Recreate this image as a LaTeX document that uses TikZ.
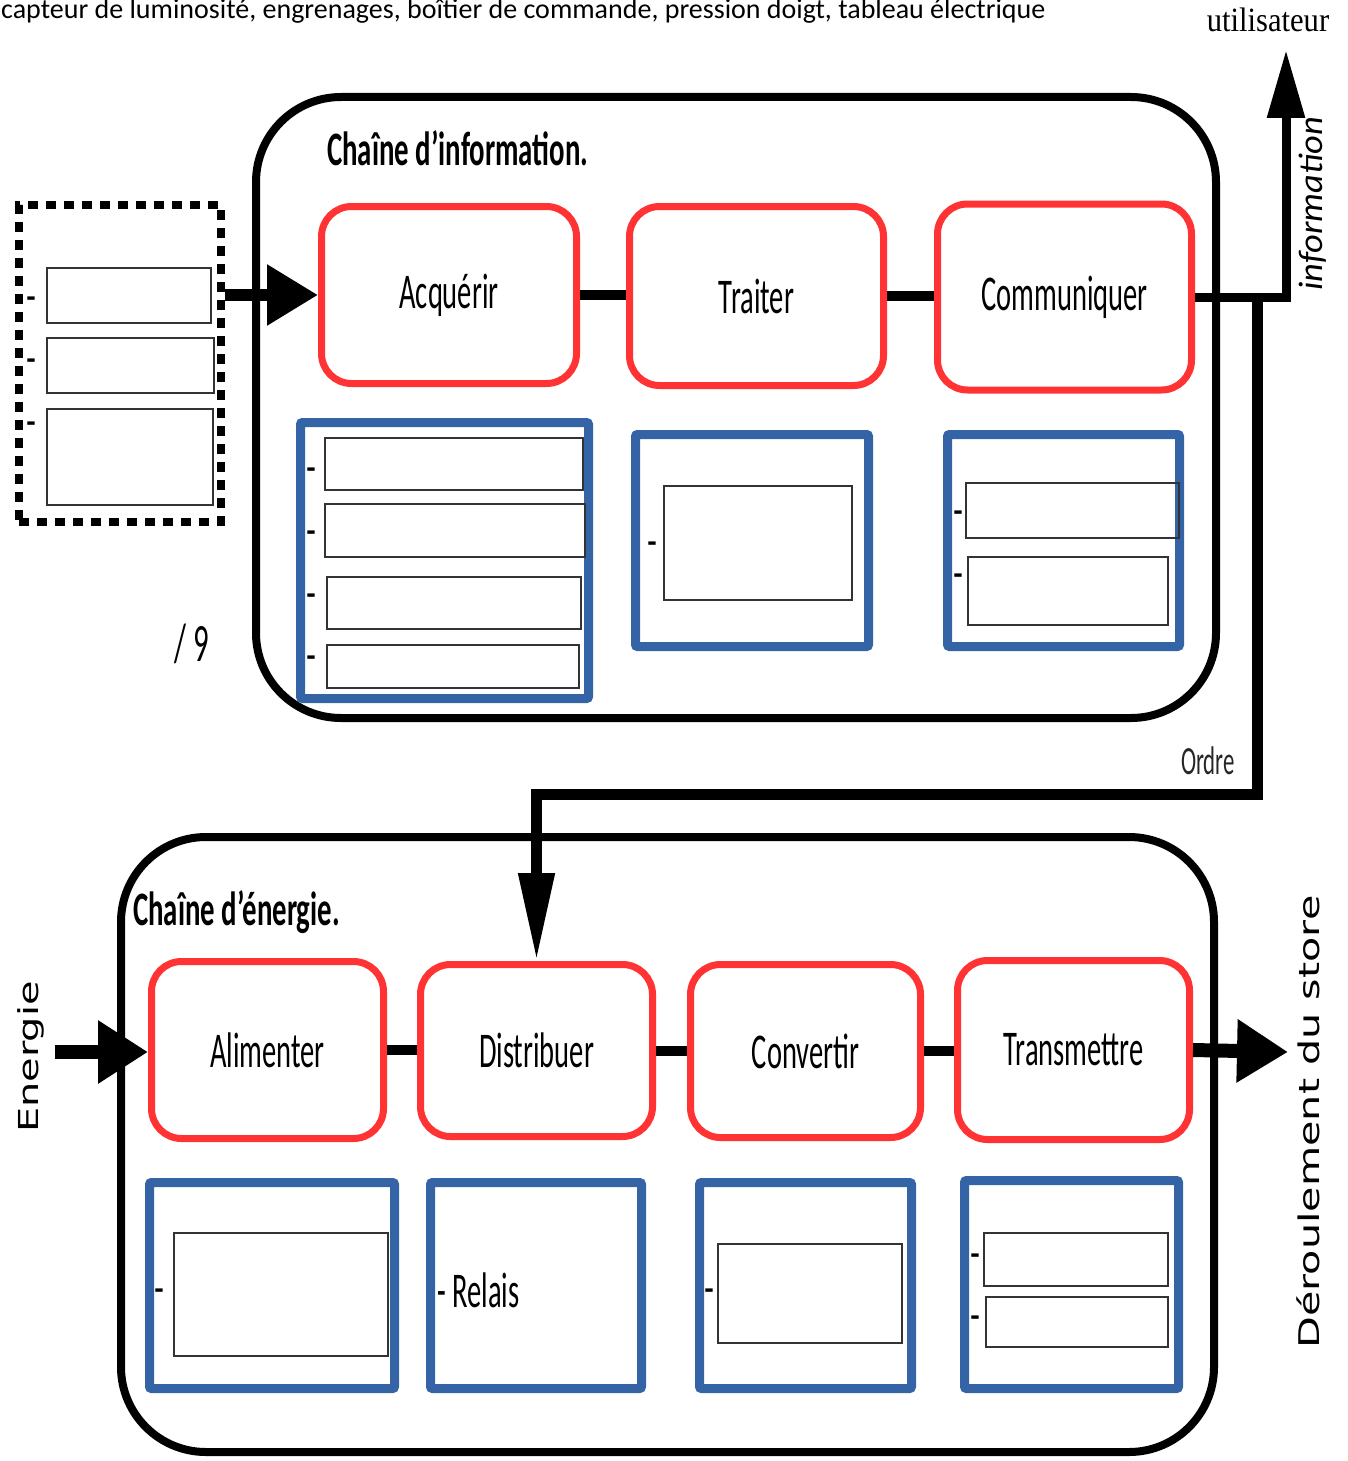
\documentclass[tikz,border=0pt]{standalone}
\usepackage{fontspec}
\setmainfont{Carlito}
\newfontfamily\cnd[FakeStretch=0.57]{Carlito}
\newfontfamily\cndb[FakeStretch=0.6]{Carlito Bold}
\newfontfamily\dvs{DejaVu Sans Bold}
\newfontfamily\dvw[FakeStretch=1.45]{DejaVu Sans}
\newfontfamily\infit[FakeStretch=1.07]{Carlito Italic}
\newfontfamily\tms[FakeStretch=0.9]{Liberation Serif}
\usetikzlibrary{arrows.meta}
\definecolor{redc}{RGB}{255,51,51}
\definecolor{bluec}{RGB}{53,100,166}
\begin{document}
\begin{tikzpicture}[x=1pt,y=-1pt,
 frame/.style={draw=black, line width=8pt, rounded corners=85pt, inner sep=0pt},
 redbox/.style={draw=redc, line width=7pt, rounded corners=30pt, inner sep=0pt, font=\cnd\fontsize{50}{60}\selectfont},
 bluebox/.style={draw=bluec, line width=9pt, rounded corners=2pt, inner sep=0pt},
 fld/.style={draw=black!80, line width=1.3pt},
 dsh/.style={inner sep=0pt, font=\dvs\fontsize{24}{24}\selectfont},
 link/.style={draw, line width=10pt},
]
\useasboundingbox (0,0) rectangle (1348,1461);

% frames
\node[frame, minimum width=960pt, minimum height=621pt] (info) at (736,407.5) {};
\node[frame, minimum width=1093pt, minimum height=615pt] (ener) at (667.5,1144.5) {};

% titles and texts
\node[anchor=base west, inner sep=0pt, font=\fontsize{28}{32}\selectfont] (top) at (1,19) {capteur de luminosité, engrenages, boîtier de commande, pression doigt, tableau électrique};
\node[inner sep=0pt, font=\tms\fontsize{34}{40}\selectfont] (usr) at (1268,20) {utilisateur};
\node[anchor=west, inner sep=0pt, font=\cndb\fontsize{48}{56}\selectfont] (tinfo) at (327,148) {Chaîne d’information.};
\node[anchor=west, inner sep=0pt, font=\cndb\fontsize{48}{56}\selectfont] (tener) at (133,912) {Chaîne d’énergie.};
\node[inner sep=0pt, font=\cnd\fontsize{54}{60}\selectfont] (note) at (192,644) {/ 9};
\node[inner sep=0pt, rotate=90, font=\infit\fontsize{34}{40}\selectfont] (linfo) at (1313,204) {information};
\node[inner sep=0pt, font=\cnd\fontsize{40}{48}\selectfont, text=black!85] (lordre) at (1208,761) {Ordre};
\node[inner sep=0pt, rotate=90, font=\dvw\fontsize{27.5}{32}\selectfont] (lener) at (31,1057) {Energie};
\node[inner sep=0pt, rotate=90, font=\dvw\fontsize{28.5}{32}\selectfont] (lstore) at (1308,1122) {Déroulement du store};

% information chain
\node[draw, dashed, dash pattern=on 10pt off 8pt, line width=8pt, inner sep=0pt, minimum width=202pt, minimum height=317pt] (src) at (120,363.5) {};
\node[redbox, minimum width=255pt, minimum height=177pt] (acq) at (449,295) {Acquérir};
\node[redbox, minimum width=254pt, minimum height=179pt] (tra) at (756.5,296) {Traiter};
\node[redbox, minimum width=254pt, minimum height=186pt] (com) at (1064.5,297) {Communiquer};
\node[bluebox, minimum width=288pt, minimum height=276pt] (acqb) at (444.5,560.5) {};
\node[bluebox, minimum width=233pt, minimum height=212pt] (trab) at (752,540.5) {};
\node[bluebox, minimum width=232pt, minimum height=212pt] (comb) at (1063.5,540.5) {};

% energy chain
\node[redbox, minimum width=232pt, minimum height=177pt] (ali) at (267.5,1050) {Alimenter};
\node[redbox, minimum width=232pt, minimum height=172pt] (dis) at (536.5,1050.5) {Distribuer};
\node[redbox, minimum width=230pt, minimum height=173pt] (con) at (805.5,1051) {Convertir};
\node[redbox, minimum width=232pt, minimum height=179pt] (trm) at (1073.5,1050) {Transmettre};
\node[bluebox, minimum width=245pt, minimum height=206pt] (alib) at (272,1285.5) {};
\node[bluebox, minimum width=211pt, minimum height=206pt] (disb) at (536,1285.5) {};
\node[bluebox, minimum width=212pt, minimum height=206pt] (conb) at (805.5,1285.5) {};
\node[bluebox, minimum width=214pt, minimum height=208pt] (trmb) at (1071.5,1284.5) {};
\node[anchor=west, inner sep=0pt, font=\cnd\fontsize{50}{60}\selectfont] (relais) at (437,1290) {- Relais};

% fields
\draw[fld] (47,268) rectangle (211,323);
\draw[fld] (47,338) rectangle (214,393);
\draw[fld] (47,409) rectangle (213,505);
\draw[fld] (325,438) rectangle (583,490);
\draw[fld] (325,504) rectangle (585,557);
\draw[fld] (327,577) rectangle (581,629);
\draw[fld] (327,645) rectangle (579,688);
\draw[fld] (664,486) rectangle (852,600);
\draw[fld] (966,483) rectangle (1179,538);
\draw[fld] (968,557) rectangle (1168,625);
\draw[fld] (174,1233) rectangle (388,1356);
\draw[fld] (718,1244) rectangle (902,1343);
\draw[fld] (984,1233) rectangle (1168,1286);
\draw[fld] (986,1297) rectangle (1168,1347);

% dashes
\node[dsh] (d1) at (31,301) {-};
\node[dsh] (d2) at (31,363) {-};
\node[dsh] (d3) at (31,426) {-};
\node[dsh] (d4) at (311,472) {-};
\node[dsh] (d5) at (311,535) {-};
\node[dsh] (d6) at (311,598) {-};
\node[dsh] (d7) at (311,660) {-};
\node[dsh] (d8) at (652,546) {-};
\node[dsh] (d9) at (958,515) {-};
\node[dsh] (d10) at (958,578) {-};
\node[dsh] (d11) at (159,1293) {-};
\node[dsh] (d12) at (709,1293) {-};
\node[dsh] (d13) at (975,1258) {-};
\node[dsh] (d14) at (975,1320) {-};

% links
\draw[link] (acq.east) -- (acq.east -| tra.west);
\draw[link] (tra.east) -- (tra.east -| com.west);
\draw[link] (ali.east) -- (ali.east -| dis.west);
\draw[link] (dis.east) -- (dis.east -| con.west);
\draw[link] (con.east) -- (con.east -| trm.west);

% coordinates
\coordinate (user) at (1286,50);
\coordinate (br) at (1257,296);
\coordinate (turn) at (1257,794);
\coordinate (ein) at (55,1052);
\coordinate (eout) at (1288,1052);

% arrows
\draw[line width=12pt, -{Triangle[length=51pt,width=58pt]}] (src.east |- acq.west) -- (acq.west);
\draw[line width=9pt, -{Triangle[length=68pt,width=36pt]}] (com.east) -- (com.east -| user) -- (user);
\draw[line width=11pt, -{Triangle[length=88pt,width=34pt]}] (br) -- (turn) -| (dis.north);
\draw[line width=14pt, -{Triangle[length=50pt,width=60pt]}] (ein) -- (ein -| ali.west);
\draw[line width=14pt, -{Triangle[length=51pt,width=60pt]}] (trm.east) -- (eout);
\end{tikzpicture}
\end{document}
